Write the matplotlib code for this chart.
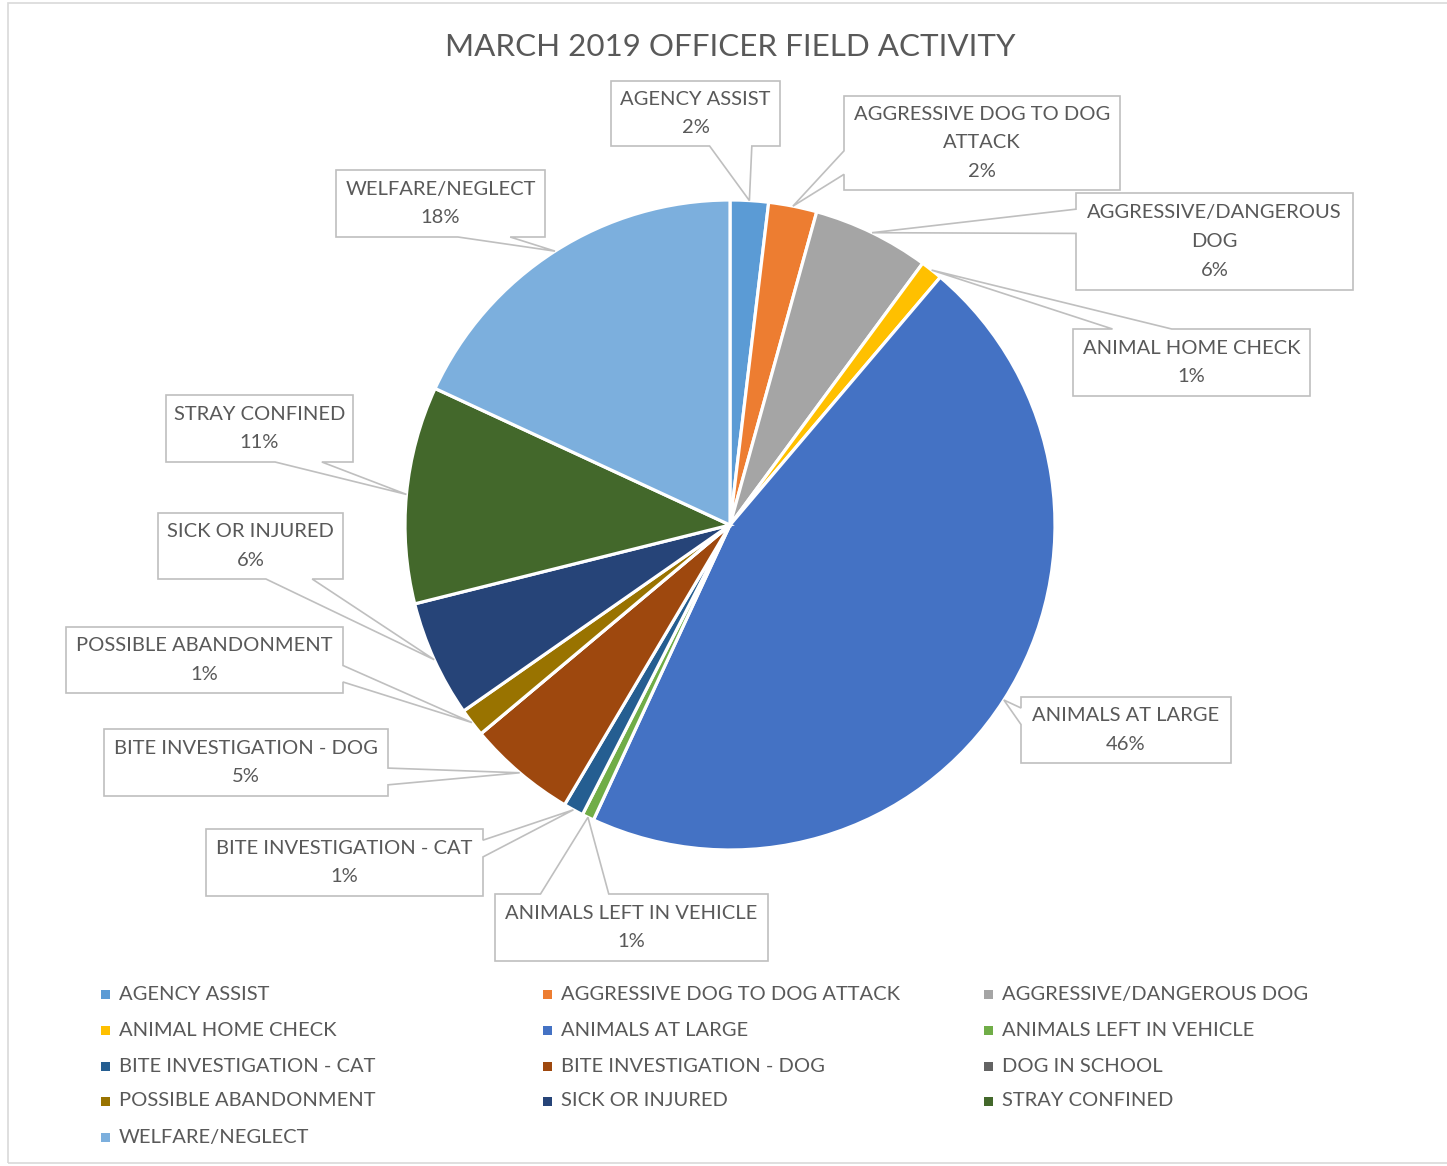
import numpy as np
import matplotlib
matplotlib.use("Agg")
import matplotlib.pyplot as plt
from matplotlib.patches import Polygon, Rectangle

# ---------------- data ----------------
categories = [
    "AGENCY ASSIST",
    "AGGRESSIVE DOG TO DOG ATTACK",
    "AGGRESSIVE/DANGEROUS DOG",
    "ANIMAL HOME CHECK",
    "ANIMALS AT LARGE",
    "ANIMALS LEFT IN VEHICLE",
    "BITE INVESTIGATION - CAT",
    "BITE INVESTIGATION - DOG",
    "DOG IN SCHOOL",
    "POSSIBLE ABANDONMENT",
    "SICK OR INJURED",
    "STRAY CONFINED",
    "WELFARE/NEGLECT",
]
values = [1.9, 2.4, 5.8, 1.1, 45.7, 0.6, 1.0, 5.4, 0.0, 1.4, 5.8, 10.8, 18.1]
colors = ["#5B9BD5", "#ED7D31", "#A5A5A5", "#FFC000", "#4472C4", "#70AD47",
          "#255E91", "#9E480E", "#636363", "#997300", "#264478", "#43682B",
          "#7CAFDD"]
title = "MARCH 2019 OFFICER FIELD ACTIVITY"

# ---------------- layout ----------------
W, H = 1447, 1166
CX, CY, R = 730, 525, 325
TEXT = "#595959"
LINE = "#BFBFBF"
FONT = ["Lato", "DejaVu Sans"]

# label display text (wrapped) and callout box in pixels (x0, y0, x1, y1)
label_layout = {
    0: ("AGENCY ASSIST", (611, 81, 780, 146)),
    1: ("AGGRESSIVE DOG TO DOG\nATTACK", (844, 96, 1120, 190)),
    2: ("AGGRESSIVE/DANGEROUS\nDOG", (1076, 193, 1353, 290)),
    3: ("ANIMAL HOME CHECK", (1073, 329, 1310, 396)),
    4: ("ANIMALS AT LARGE", (1021, 697, 1231, 763)),
    5: ("ANIMALS LEFT IN VEHICLE", (495, 894, 768, 961)),
    6: ("BITE INVESTIGATION - CAT", (206, 829, 483, 896)),
    7: ("BITE INVESTIGATION - DOG", (104, 729, 388, 796)),
    9: ("POSSIBLE ABANDONMENT", (66, 627, 343, 693)),
    10: ("SICK OR INJURED", (158, 513, 343, 579)),
    11: ("STRAY CONFINED", (166, 395, 353, 462)),
    12: ("WELFARE/NEGLECT", (336, 170, 545, 237)),
}


def P(x, y):
    """pixel -> data coords"""
    return ((x - CX) / R, (CY - y) / R)


fig = plt.figure(figsize=(W / 100, H / 100), dpi=100)
ax = fig.add_axes([0, 0, 1, 1])

wedges, _ = ax.pie(values, colors=colors, startangle=90, counterclock=False,
                   radius=1.0, center=(0, 0), frame=False,
                   wedgeprops=dict(edgecolor="white", linewidth=2.3))
ax.set_xlim(-CX / R, (W - CX) / R)
ax.set_ylim((CY - H) / R, CY / R)
ax.set_aspect("auto")
ax.axis("off")

# outer chart border
fig.patches.append(Rectangle((8 / W, 3 / H), 1.2, (H - 6) / H, transform=fig.transFigure,
                             fill=False, edgecolor="#D9D9D9", linewidth=1.2))

# title
fig.text(730 / W, 1 - 47 / H, title, ha="center", va="center", color=TEXT,
         fontsize=22.6, family=FONT)


def callout_points(x0, y0, x1, y1, tx, ty):
    w = x1 - x0
    h = y1 - y0
    hc = (x0 + x1) / 2
    vc = (y0 + y1) / 2
    dx = tx - hc
    dy = ty - vc
    dq = dx * h / w
    if abs(dy) - abs(dq) > 0:
        xa = x0 + w * (7 if dx > 0 else 2) / 12
        xb = x0 + w * (10 if dx > 0 else 5) / 12
        if dy < 0:
            pts = [(x0, y0), (xa, y0), (tx, ty), (xb, y0), (x1, y0), (x1, y1), (x0, y1)]
        else:
            pts = [(x0, y0), (x1, y0), (x1, y1), (xb, y1), (tx, ty), (xa, y1), (x0, y1)]
    else:
        ya = y0 + h * (7 if dy > 0 else 2) / 12
        yb = y0 + h * (10 if dy > 0 else 5) / 12
        if dx < 0:
            pts = [(x0, y0), (x1, y0), (x1, y1), (x0, y1), (x0, yb), (tx, ty), (x0, ya)]
        else:
            pts = [(x0, y0), (x1, y0), (x1, ya), (tx, ty), (x1, yb), (x1, y1), (x0, y1)]
    return [P(*p) for p in pts]


total = sum(values)
cum = 0.0
for i, v in enumerate(values):
    mid = cum + v / 2
    cum += v
    if i not in label_layout:
        continue
    name, (x0, y0, x1, y1) = label_layout[i]
    theta = np.deg2rad(90 - 360 * mid / total)
    tx = CX + R * np.cos(theta)
    ty = CY - R * np.sin(theta)
    poly = Polygon(callout_points(x0, y0, x1, y1, tx, ty), closed=True,
                   facecolor="none", edgecolor=LINE, linewidth=1.2, zorder=5)
    ax.add_patch(poly)
    txt = f"{name}\n{round(100 * v / total)}%"
    cx, cy = P((x0 + x1) / 2, (y0 + y1) / 2)
    ax.text(cx, cy, txt, ha="center", va="center", color=TEXT, fontsize=14.5,
            family=FONT, linespacing=1.85, zorder=6)

# legend (row-major, 3 columns)
col_x = [106, 548, 989]
row_y = [995, 1030, 1066, 1101, 1137]
for i, name in enumerate(categories):
    r, c = divmod(i, 3)
    mx, my = col_x[c], row_y[r]
    ax.add_patch(Rectangle(P(mx - 4.5, my + 4.5), 9 / R, 9 / R,
                           facecolor=colors[i], edgecolor="none", zorder=5))
    tx_, ty_ = P(mx + 13, my)
    ax.text(tx_, ty_, name, ha="left", va="center", color=TEXT, fontsize=14.5,
            family=FONT, zorder=6)

fig.savefig("out.png", dpi=100)
